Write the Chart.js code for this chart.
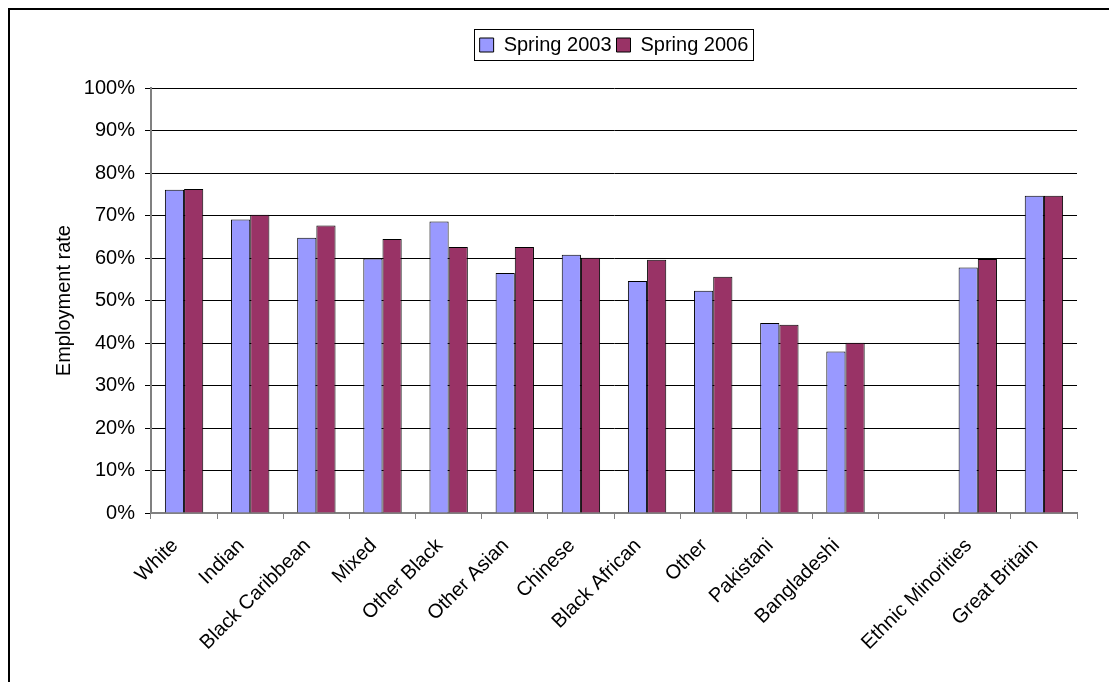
<!DOCTYPE html>
<html>
<head>
<meta charset="utf-8">
<script src="https://cdn.jsdelivr.net/npm/chart.js@4/dist/chart.umd.min.js"></script>
<style>
  body { margin: 0; background: #fff; overflow: hidden; }
  #wrap { position: relative; width: 1109px; height: 682px; }
  #frame { position: absolute; left: 8px; top: 8px; width: 1200px; height: 800px;
           border-left: 2px solid #000; border-top: 2px solid #000; pointer-events: none; }
</style>
</head>
<body>
<div id="wrap">
  <canvas id="chart" width="1109" height="682"></canvas>
  <div id="frame"></div>
</div>
<script>
// employment rate by ethnic group, spring 2003 vs spring 2006
var groups = ['White', 'Indian', 'Black Caribbean', 'Mixed', 'Other Black', 'Other Asian',
              'Chinese', 'Black African', 'Other', 'Pakistani', 'Bangladeshi', '',
              'Ethnic Minorities', 'Great Britain'];
var spring2003 = [76.1, 69.1, 64.8, 59.9, 68.6, 56.5, 60.8, 54.6, 52.3, 44.7, 38.0, null, 57.8, 74.7];
var spring2006 = [76.3, 70.2, 67.7, 64.5, 62.6, 62.6, 60.1, 59.6, 55.6, 44.3, 40.1, null, 59.8, 74.7];
var yTicks = [0, 10, 20, 30, 40, 50, 60, 70, 80, 90, 100];

var font = "'Liberation Sans', Arial, sans-serif";
Chart.defaults.font.family = font;
Chart.defaults.font.size = 20;
Chart.defaults.color = '#000';

// frame round the legend, like the old spreadsheet chart
var legendFrame = {
    id: 'legendFrame',
    afterDraw: function(chart) {
        var boxes = chart.legend.legendHitBoxes;
        if (!boxes || !boxes.length) return;
        var l = boxes[0].left, r = boxes[boxes.length - 1].left + boxes[boxes.length - 1].width;
        var t = boxes[0].top, b = boxes[0].top + boxes[0].height;
        var ctx = chart.ctx;
        ctx.save();
        ctx.strokeStyle = '#000';
        ctx.lineWidth = 1;
        ctx.strokeRect(Math.round(l - 6) + 0.5, Math.round(t - 6) + 0.5, Math.round(r - l + 10), Math.round(b - t + 11));
        ctx.restore();
    }
};

var ctx = document.getElementById('chart');
var chart = new Chart(ctx, {
    type: 'bar',
    data: {
        labels: groups,
        datasets: [
            {
                label: 'Spring 2003',
                data: spring2003,
                backgroundColor: '#9999FF',
                borderColor: '#000',
                borderWidth: 1,
                borderSkipped: 'bottom'
            },
            {
                label: 'Spring 2006',
                data: spring2006,
                backgroundColor: '#993366',
                borderColor: '#000',
                borderWidth: 1,
                borderSkipped: 'bottom'
            }
        ]
    },
    options: {
        responsive: false,
        animation: false,
        layout: { padding: { top: 30, right: 32, bottom: 0, left: 0 } },
        datasets: { bar: { categoryPercentage: 0.58, barPercentage: 1.0 } },
        plugins: {
            legend: {
                position: 'top',
                fullSize: false,
                labels: {
                    boxWidth: 14,
                    boxHeight: 14,
                    padding: 5,
                    font: { size: 20 }
                }
            },
            // empty spacer between legend and plot area
            title: {
                display: true,
                text: ' ',
                weight: 500,
                font: { size: 1 },
                padding: { top: 0, bottom: 22 }
            },
            tooltip: { enabled: false }
        },
        scales: {
            x: {
                grid: {
                    offset: true,
                    drawOnChartArea: false,
                    drawTicks: true,
                    tickLength: 6,
                    color: '#808080'
                },
                border: { color: '#808080', width: 2 },
                ticks: {
                    minRotation: 45,
                    maxRotation: 45,
                    autoSkip: false,
                    padding: 15,
                    labelOffset: -9,
                    font: { size: 20 }
                },
                afterFit: function(scale) { scale.height = 169; }
            },
            y: {
                min: 0,
                max: 100,
                afterBuildTicks: function(scale) {
                    scale.ticks = yTicks.map(function(v) { return { value: v }; });
                },
                grid: {
                    color: '#000',
                    tickLength: 6,
                    drawTicks: true
                },
                border: { color: '#808080', width: 2 },
                ticks: {
                    padding: 10,
                    font: { size: 20 },
                    callback: function(v) { return v + '%'; }
                },
                title: {
                    display: true,
                    text: 'Employment rate',
                    font: { size: 20 },
                    padding: { top: 52, bottom: 0 }
                },
                afterFit: function(scale) { scale.width = 151; }
            }
        }
    },
    plugins: [legendFrame]
});
</script>
</body>
</html>
